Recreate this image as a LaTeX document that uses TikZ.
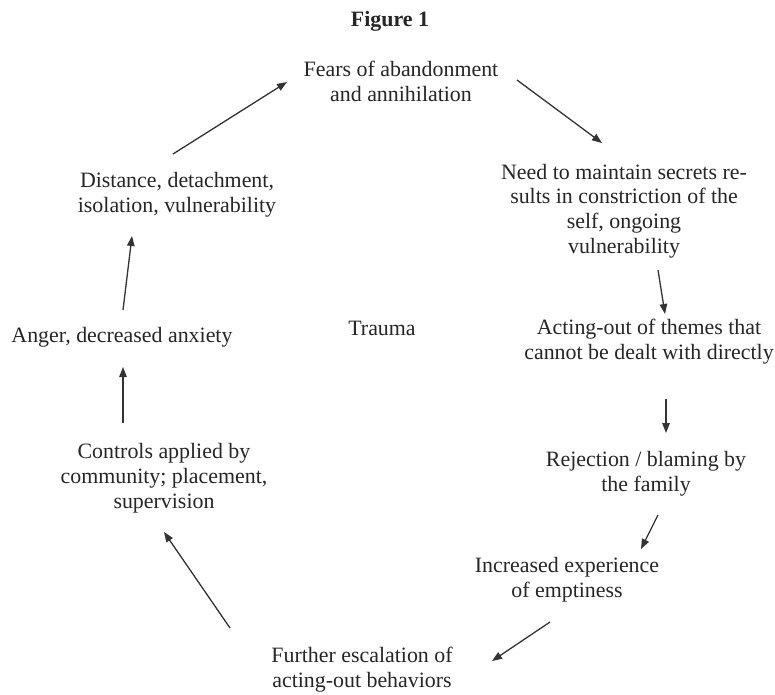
\documentclass[tikz,border=0pt]{standalone}
\usepackage{fontspec}
\setmainfont{Liberation Serif}
\usetikzlibrary{arrows.meta}
\begin{document}
\begin{tikzpicture}[x=1pt,y=-1pt,
  lbl/.style={align=center,inner sep=0pt,text=black!85,font=\fontsize{21.9}{24.8}\selectfont},
  conn/.style={draw=black!80,line width=1.3pt,-{Triangle[length=10pt,width=7.5pt]}}]
\useasboundingbox[fill=white] (0,0) rectangle (775,694);
\node[lbl,font=\fontsize{21.9}{24.8}\selectfont\bfseries] (title) at (390,21) {Figure 1};
\node[lbl] (fears) at (401,81) {Fears of abandonment\\and annihilation};
\node[lbl] (need) at (624,211) {Need to maintain secrets re-\\sults in constriction of the\\self, ongoing\\vulnerability};
\node[lbl] (dist) at (177,195) {Distance, detachment,\\isolation, vulnerability};
\node[lbl] (anger) at (122,337) {Anger, decreased anxiety};
\node[lbl] (trauma) at (382,328) {Trauma};
\node[lbl] (act) at (649,342) {Acting-out of themes that\\cannot be dealt with directly};
\node[lbl] (rej) at (646,474) {Rejection / blaming by\\the family};
\node[lbl] (ctrl) at (164,478) {Controls applied by\\community; placement,\\supervision};
\node[lbl] (inc) at (567,580) {Increased experience\\of emptiness};
\node[lbl] (fur) at (362,670) {Further escalation of\\acting-out behaviors};
% connector end points
\coordinate (a1s) at (173,154); \coordinate (a1e) at (287,82);
\coordinate (a2s) at (517,80);  \coordinate (a2e) at (602,143);
\coordinate (a3s) at (658,270); \coordinate (a3e) at (665,314);
\coordinate (a4s) at (666,399); \coordinate (a4e) at (666,433);
\coordinate (a5s) at (658,515); \coordinate (a5e) at (641,549);
\coordinate (a6s) at (550,622); \coordinate (a6e) at (492,661);
\coordinate (a7s) at (230,628); \coordinate (a7e) at (164,532);
\coordinate (a8s) at (123,423); \coordinate (a8e) at (123,367);
\coordinate (a9s) at (123,310); \coordinate (a9e) at (132,236);
\draw[conn] (a1s) -- (a1e);
\draw[conn] (a2s) -- (a2e);
\draw[conn] (a3s) -- (a3e);
\draw[conn] (a4s) -- (a4e);
\draw[conn] (a5s) -- (a5e);
\draw[conn] (a6s) -- (a6e);
\draw[conn] (a7s) -- (a7e);
\draw[conn] (a8s) -- (a8e);
\draw[conn] (a9s) -- (a9e);
\end{tikzpicture}
\end{document}
